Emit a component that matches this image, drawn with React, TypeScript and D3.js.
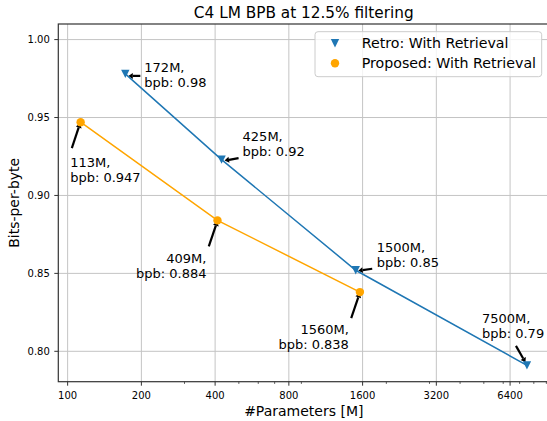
import React from 'react';
import * as d3 from 'd3';

// values
const retroParams = [172, 425, 1500, 7500];
const retroBpb = [0.978, 0.923, 0.852, 0.791];
const retroLabels = ['172M,|bpb: 0.98', '425M,|bpb: 0.92', '1500M,|bpb: 0.85', '7500M,|bpb: 0.79'];

const propParams = [113, 409, 1560];
const propBpb = [0.947, 0.884, 0.838];
const propLabels = ['113M,|bpb: 0.947', '409M,|bpb: 0.884', '1560M,|bpb: 0.838'];

const xTicks = [100, 200, 400, 800, 1600, 3200, 6400];
const xMinorTicks = [300, 500, 600, 700, 900, 2000, 3000, 4000, 5000, 6000, 7000, 8000, 9000];
const yTicks = [0.8, 0.85, 0.9, 0.95, 1.0];

const seriesNames = ['Retro: With Retrieval', 'Proposed: With Retrieval'];

// label placement, pixel offsets from the point (layout only)
const retroOffsets = [
  { tx: 19, ty: -6, anchor: 'start', tail: [15, 2], tip: [3, 2] },
  { tx: 21, ty: -23, anchor: 'start', tail: [17, -1.5], tip: [3, 1] },
  { tx: 21, ty: -23, anchor: 'start', tail: [16.5, -1.5], tip: [2.5, 0.5] },
  { tx: -45, ty: -47, anchor: 'start', tail: [-11, -19.5], tip: [-1.5, -3] },
];
const propOffsets = [
  { tx: -10.5, ty: 40.5, anchor: 'start', tail: [-8.8, 26], tip: [-0.5, 1] },
  { tx: -11, ty: 37.7, anchor: 'end', tail: [-8.7, 26], tip: [-0.2, 1] },
  { tx: -11, ty: 37.6, anchor: 'end', tail: [-8.7, 26], tip: [-0.2, 1] },
];

const W = 547;
const H = 421;
const left = 58.3;
const right = 549.3;
const top = 24;
const bottom = 381.7;

const FONT = 'DejaVu Sans, sans-serif';
const BLUE = '#1f77b4';
const ORANGE = '#ffa500';

const x = d3.scaleLog().domain([91.6, 9253]).range([left, right]);
const y = d3.scaleLinear().domain([0.7805, 1.01]).range([bottom, top]);

const triDown = (cx: number, cy: number, s: number) =>
  `M${cx},${cy + s} L${cx - s},${cy - s} L${cx + s},${cy - s} Z`;

const Arrow = ({ px, py, off }: { px: number; py: number; off: any }) => {
  const x1 = px + off.tail[0];
  const y1 = py + off.tail[1];
  const x2 = px + off.tip[0];
  const y2 = py + off.tip[1];
  const dx = x2 - x1;
  const dy = y2 - y1;
  const len = Math.sqrt(dx * dx + dy * dy);
  const ux = dx / len;
  const uy = dy / len;
  const hl = 4.5;
  const hw = 3;
  const bx = x2 - ux * hl;
  const by = y2 - uy * hl;
  return (
    <g>
      <line x1={x1} y1={y1} x2={bx} y2={by} stroke="#000" strokeWidth={2.2} />
      <path
        d={`M${x2},${y2} L${bx - uy * hw},${by + ux * hw} L${bx + uy * hw},${by - ux * hw} Z`}
        fill="#000"
      />
    </g>
  );
};

const Label = ({ px, py, off, text }: { px: number; py: number; off: any; text: string }) => {
  const lines = text.split('|');
  return (
    <text
      x={px + off.tx}
      y={py + off.ty}
      fontSize={13}
      fontFamily={FONT}
      fill="#000"
      textAnchor={off.anchor}
    >
      {lines.map((l, i) => (
        <tspan key={i} x={px + off.tx} dy={i === 0 ? '0.35em' : 15}>
          {l}
        </tspan>
      ))}
    </text>
  );
};

export default function App() {
  const retroLine = d3
    .line<number>()
    .x((_, i) => x(retroParams[i]))
    .y((d) => y(d));
  const propLine = d3
    .line<number>()
    .x((_, i) => x(propParams[i]))
    .y((d) => y(d));

  return (
    <svg
      width={W}
      height={H}
      style={{ position: 'absolute', left: 0, top: 0, background: '#fff' }}
    >
      <rect x={0} y={0} width={W} height={H} fill="#fff" />
      <defs>
        <clipPath id="plot">
          <rect x={left} y={top} width={right - left} height={bottom - top} />
        </clipPath>
      </defs>

      {/* grid */}
      {xTicks.map((t) => (
        <line key={'gx' + t} x1={x(t)} x2={x(t)} y1={top} y2={bottom} stroke="#c4c4c4" strokeWidth={1} />
      ))}
      {yTicks.map((t) => (
        <line key={'gy' + t} x1={left} x2={right} y1={y(t)} y2={y(t)} stroke="#c4c4c4" strokeWidth={1} />
      ))}

      {/* annotation arrows, under the markers */}
      {retroBpb.map((v, i) => (
        <Arrow key={'rar' + i} px={x(retroParams[i])} py={y(v)} off={retroOffsets[i]} />
      ))}
      {propBpb.map((v, i) => (
        <Arrow key={'par' + i} px={x(propParams[i])} py={y(v)} off={propOffsets[i]} />
      ))}

      {/* series */}
      <g clipPath="url(#plot)">
        <path d={retroLine(retroBpb) || ''} fill="none" stroke={BLUE} strokeWidth={1.5} />
        <path d={propLine(propBpb) || ''} fill="none" stroke={ORANGE} strokeWidth={1.5} />
        {retroBpb.map((v, i) => (
          <path key={'rm' + i} d={triDown(x(retroParams[i]), y(v), 4.2)} fill={BLUE} />
        ))}
        {propBpb.map((v, i) => (
          <circle key={'pm' + i} cx={x(propParams[i])} cy={y(v)} r={4.2} fill={ORANGE} />
        ))}
      </g>

      {/* annotation texts */}
      {retroBpb.map((v, i) => (
        <Label key={'rl' + i} px={x(retroParams[i])} py={y(v)} off={retroOffsets[i]} text={retroLabels[i]} />
      ))}
      {propBpb.map((v, i) => (
        <Label key={'pl' + i} px={x(propParams[i])} py={y(v)} off={propOffsets[i]} text={propLabels[i]} />
      ))}

      {/* spines */}
      <rect x={left} y={top} width={right - left} height={bottom - top} fill="none" stroke="#333" strokeWidth={1.2} />

      {/* x ticks */}
      {xTicks.map((t) => (
        <g key={'xt' + t}>
          <line x1={x(t)} x2={x(t)} y1={bottom} y2={bottom + 4} stroke="#333" strokeWidth={1} />
          <text x={x(t)} y={bottom + 13.5} dy="0.35em" fontSize={10} fontFamily={FONT} textAnchor="middle" fill="#000">
            {t}
          </text>
        </g>
      ))}
      {xMinorTicks.map((t) => (
        <line key={'xm' + t} x1={x(t)} x2={x(t)} y1={bottom} y2={bottom + 2.2} stroke="#333" strokeWidth={0.8} />
      ))}

      {/* y ticks */}
      {yTicks.map((t) => (
        <g key={'yt' + t}>
          <line x1={left - 4} x2={left} y1={y(t)} y2={y(t)} stroke="#333" strokeWidth={1} />
          <text x={left - 8.5} y={y(t)} dy="0.35em" fontSize={10} fontFamily={FONT} textAnchor="end" fill="#000">
            {t.toFixed(2)}
          </text>
        </g>
      ))}

      {/* axis labels and title */}
      <text x={(left + right) / 2} y={411.5} dy="0.35em" fontSize={14} fontFamily={FONT} textAnchor="middle" fill="#000">
        #Parameters [M]
      </text>
      <text
        transform={`translate(14,${(top + bottom) / 2}) rotate(-90)`}
        dy="0.35em"
        fontSize={14}
        fontFamily={FONT}
        textAnchor="middle"
        fill="#000"
      >
        Bits-per-byte
      </text>
      <text x={(left + right) / 2} y={12.5} dy="0.35em" fontSize={15.3} fontFamily={FONT} textAnchor="middle" fill="#000">
        C4 LM BPB at 12.5% filtering
      </text>

      {/* legend */}
      <g>
        <rect x={315} y={31.7} width={226.7} height={45} rx={3} fill="#fff" fillOpacity={0.8} stroke="#cccccc" strokeWidth={1} />
        <path d={triDown(335, 43.3, 4.2)} fill={BLUE} />
        <circle cx={335} cy={63.3} r={4.2} fill={ORANGE} />
        <text x={361.7} y={43.3} dy="0.35em" fontSize={14.2} fontFamily={FONT} fill="#000">
          {seriesNames[0]}
        </text>
        <text x={361.7} y={63.3} dy="0.35em" fontSize={14.2} fontFamily={FONT} fill="#000">
          {seriesNames[1]}
        </text>
      </g>
    </svg>
  );
}
